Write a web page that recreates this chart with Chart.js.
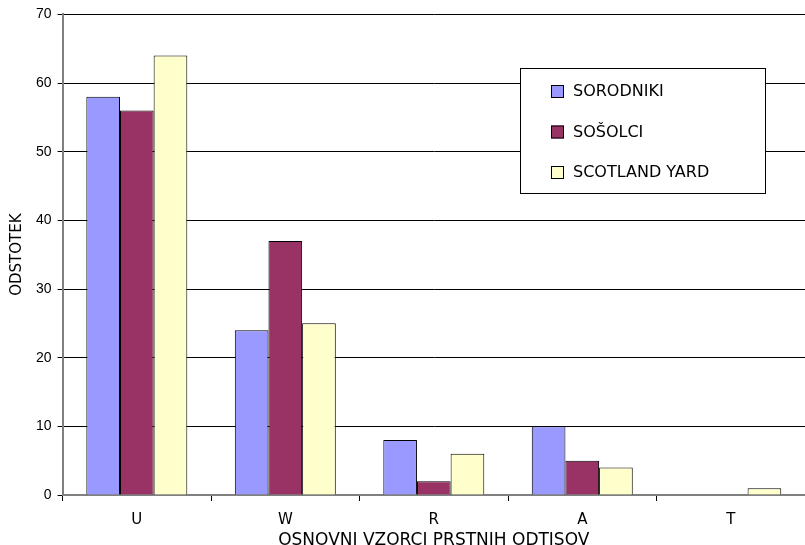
<!DOCTYPE html>
<html>
<head>
<meta charset="utf-8">
<script src="https://cdn.jsdelivr.net/npm/chart.js@4"></script>
<style>
  html, body { margin: 0; padding: 0; background: #fff; }
</style>
</head>
<body>
<canvas id="chart" width="805" height="545"></canvas>
<script>
// data
const categories = ['U', 'W', 'R', 'A', 'T']
const sorodniki = [58, 24, 8, 10, 0]
const sosolci = [56, 37, 2, 5, 0]
const scotlandYard = [64, 25, 6, 4, 1]
const seriesNames = ['SORODNIKI', 'SOŠOLCI', 'SCOTLAND YARD']

const labelFont = 'DejaVu Sans, Liberation Sans, sans-serif'

// legend box drawn inside the plot, like the original
const boxLegend = {
    id: 'boxLegend',
    afterDraw(chart) {
        const ctx = chart.ctx
        ctx.save()
        ctx.fillStyle = '#fff'
        ctx.strokeStyle = '#000'
        ctx.lineWidth = 1
        ctx.fillRect(520, 68, 245, 125)
        ctx.strokeRect(520.5, 68.5, 245, 125)
        ctx.font = '16px ' + labelFont
        ctx.textBaseline = 'middle'
        chart.data.datasets.forEach((ds, i) => {
            let y = 91 + i * 40.5
            ctx.fillStyle = ds.backgroundColor
            ctx.fillRect(551, y - 6, 13, 13)
            ctx.strokeStyle = '#000'
            ctx.strokeRect(551.5, y - 5.5, 12, 12)
            ctx.fillStyle = '#000'
            ctx.fillText(ds.label, 573, y + 1)
        })
        ctx.restore()
    }
}

new Chart(document.getElementById('chart'), {
    type: 'bar',
    data: {
        labels: categories,
        datasets: [
            { label: seriesNames[0], data: sorodniki, backgroundColor: '#9999FF' },
            { label: seriesNames[1], data: sosolci, backgroundColor: '#993366' },
            { label: seriesNames[2], data: scotlandYard, backgroundColor: '#FFFFCC' }
        ]
    },
    options: {
        responsive: false,
        animation: false,
        layout: { padding: { top: 11, right: 0, left: 8, bottom: -4 } },
        datasets: {
            bar: {
                borderColor: '#000',
                borderWidth: 1,
                categoryPercentage: 0.68,
                barPercentage: 1
            }
        },
        plugins: {
            legend: { display: false },
            tooltip: { enabled: false }
        },
        scales: {
            x: {
                grid: { drawOnChartArea: false, offset: true, tickLength: 6, tickColor: '#000' },
                border: { color: '#808080', width: 2 },
                ticks: { color: '#000', font: { family: labelFont, size: 15, lineHeight: 1 }, padding: 12 },
                title: {
                    display: true,
                    text: 'OSNOVNI VZORCI PRSTNIH ODTISOV',
                    color: '#000',
                    font: { family: labelFont, size: 17, lineHeight: 1 },
                    padding: { top: -8, bottom: 0 }
                }
            },
            y: {
                min: 0,
                max: 70,
                ticks: { stepSize: 10, color: '#000', font: { family: 'Liberation Sans, Arial, sans-serif', size: 14 }, padding: 6 },
                grid: { color: '#000', tickLength: 5, tickColor: '#000' },
                border: { color: '#808080', width: 2 },
                title: {
                    display: true,
                    text: 'ODSTOTEK',
                    color: '#000',
                    font: { family: labelFont, size: 15 },
                    padding: { top: 0, bottom: 4 }
                }
            }
        }
    },
    plugins: [boxLegend]
})
</script>
</body>
</html>
